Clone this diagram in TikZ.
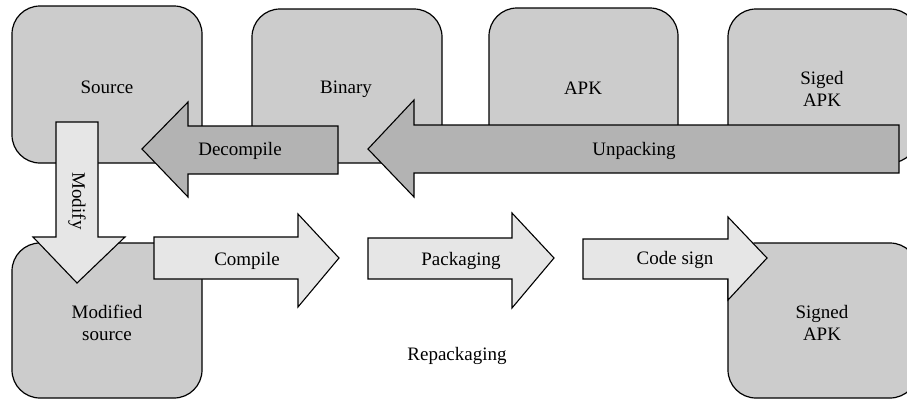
\documentclass[tikz,border=0pt]{standalone}
\usepackage{fontspec}
\setmainfont{Liberation Serif}
\definecolor{boxgray}{HTML}{CCCCCC}
\definecolor{darkarrow}{HTML}{B3B3B3}
\definecolor{lightarrow}{HTML}{E6E6E6}
\begin{document}
\begin{tikzpicture}[x=1pt,y=-1pt,
  fbox/.style={draw=black,line width=1.2pt,fill=boxgray,rounded corners=28pt},
  darr/.style={draw=black,line width=1.1pt,fill=darkarrow},
  larr/.style={draw=black,line width=1.1pt,fill=lightarrow},
  lbl/.style={font=\fontsize{19}{22}\selectfont,align=center,inner sep=0pt},
  bl/.style={lbl,anchor=base}]
\useasboundingbox (0,0) rectangle (907,400);
% top row boxes
\draw[fbox] (12,6) rectangle (202,163);
\draw[fbox] (252,9) rectangle (442,163);
\draw[fbox] (489,8) rectangle (678,163);
\draw[fbox] (728,9) rectangle (918,163);
\node[bl] (source) at (107,93) {Source};
\node[bl] (binary) at (346,93) {Binary};
\node[bl] (apk) at (583,94) {APK};
\node[lbl] (siged) at (822,89) {Siged\\APK};
% Unpacking arrow
\draw[darr] (899,125) -- (414,125) -- (414,100) -- (368,149) -- (414,197) -- (414,173) -- (899,173) -- cycle;
\node[bl] (unpack) at (634,155) {Unpacking};
% Decompile arrow
\draw[darr] (338,126) -- (188,126) -- (188,102) -- (142,149) -- (188,197) -- (188,174) -- (338,174) -- cycle;
\node[bl] (decomp) at (240,155) {Decompile};
% bottom boxes
\draw[fbox] (12,243) rectangle (202,398);
\draw[fbox] (728,243) rectangle (918,398);
\node[lbl] (modsrc) at (107,323) {Modified\\source};
\node[lbl] (signed) at (822,323) {Signed\\APK};
% Modify arrow
\draw[larr] (56,122) -- (98,122) -- (98,237) -- (125,237) -- (77,283) -- (33,237) -- (56,237) -- cycle;
\node[lbl,rotate=-90] (modify) at (77,201) {Modify};
% Compile arrow
\draw[larr] (154,237) -- (298,237) -- (298,214) -- (339,258) -- (298,307) -- (298,279) -- (154,279) -- cycle;
\node[bl] (compile) at (247,265) {Compile};
% Packaging arrow
\draw[larr] (368,238) -- (512,238) -- (512,213) -- (554,258) -- (512,308) -- (512,279) -- (368,279) -- cycle;
\node[bl] (pack) at (461,265) {Packaging};
% Code sign arrow
\draw[larr] (583,239) -- (728,239) -- (728,217) -- (767,258) -- (728,300) -- (728,279) -- (583,279) -- cycle;
\node[bl] (codesign) at (675,264) {Code sign};
\node[bl] (repack) at (457,360) {Repackaging};
\end{tikzpicture}
\end{document}
